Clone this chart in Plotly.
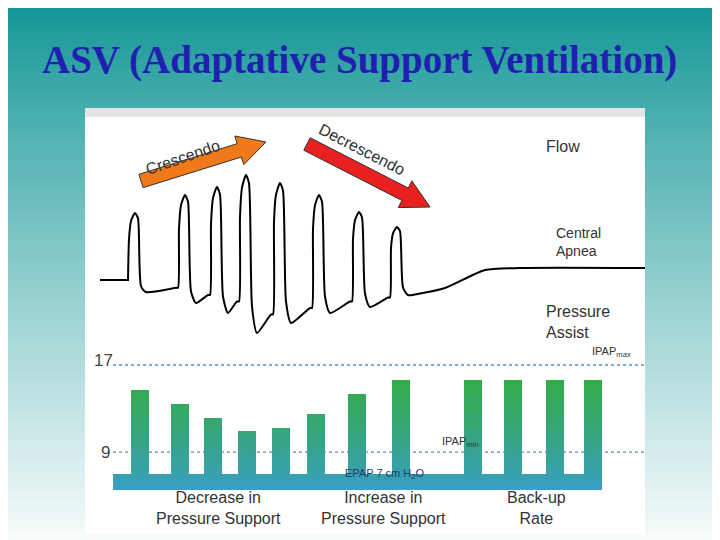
import math
import plotly.graph_objects as go

# flow waveform: breath rise position, peak amplitude, trough amplitude (px-like units above baseline)
breath_rise = [128, 178, 210, 239, 273, 312, 352, 390]
breath_peak = [67, 85, 93, 105, 97, 85, 68, 53]
breath_trough = [-12, -23, -33, -53, -43, -33, -27, -15]
apnea_level = [10, 12]

# pressure bars (cm H2O)
bar_x = [140, 180, 213, 247, 281, 316, 357, 401, 473, 513, 555, 593]
bar_top = [14.7, 13.4, 12.1, 10.9, 11.2, 12.5, 14.3, 15.6, 15.6, 15.6, 15.6, 15.6]
epap = 7
ipap_min = 9
ipap_max = 17
band_bottom = 5.5

# page is drawn 8px in from the window corner, so work in window pixels and shift
OFF = 8
W, H = 720 - OFF, 540 - OFF
L, R, T, B = 85 - OFF, 75, 108 - OFF, 5


def px(x):
    return (x - OFF - L) / (W - L - R)


def py(y):
    return (H - B - (y - OFF)) / (H - T - B)


fig = go.Figure()

# flow trace
fx, fy = [100, 128], [0, 0]
prev = 0
for i, (rx, pk, tr) in enumerate(zip(breath_rise, breath_peak, breath_trough)):
    nxt = breath_rise[i + 1] if i + 1 < len(breath_rise) else None
    fx += [rx, rx + 1, rx + 3, rx + 7, rx + 10, rx + 13, rx + 18]
    fy += [prev, pk * 0.6, pk * 0.88, pk, pk * 0.92, tr * 0.5, tr]
    if nxt:
        prev = tr * 0.65
        fx += [nxt - 2]
        fy += [prev]
fx += [420, 445, 485, 520, 645]
fy += [breath_trough[-1] * 0.9, -8, apnea_level[0], apnea_level[1], apnea_level[1]]
fig.add_trace(go.Scatter(x=fx, y=fy, mode="lines", line=dict(color="black", width=2, shape="spline", smoothing=0.6),
                         yaxis="y", hoverinfo="skip"))


def mix(c1, c2, t):
    return "rgb(%d,%d,%d)" % tuple(int(a + (b - a) * t) for a, b in zip(c1, c2))


green = (52, 172, 72)
teal = (58, 158, 200)
top_level = max(bar_top)
step = 0.25
lvl = band_bottom
while lvl < top_level:
    hi = lvl + step
    col = mix(teal, green, min(1, (lvl - band_bottom) / (top_level - band_bottom)) ** 0.8)
    if lvl < epap:
        xs, hs, wd = [357], [min(epap, hi) - lvl], 489
    else:
        xs = [x for x, t in zip(bar_x, bar_top) if t > lvl]
        hs = [min(t, hi) - lvl for t in bar_top if t > lvl]
        wd = 17.5
    fig.add_trace(go.Bar(x=xs, y=hs, base=lvl, width=wd, marker=dict(color=col, line=dict(width=0)),
                         yaxis="y2", hoverinfo="skip"))
    lvl = hi

for lv in [ipap_max, ipap_min]:
    fig.add_trace(go.Scatter(x=[113, 645], y=[lv, lv], mode="lines", yaxis="y2",
                             line=dict(color="#5a8fb0", width=1.3, dash="dot"), hoverinfo="skip"))

shapes = []
# background gradient
n = 54
for i in range(n):
    c = mix((18, 150, 150), (245, 250, 250), (i / (n - 1)) ** 0.9)
    shapes.append(dict(type="rect", xref="paper", yref="paper", x0=px(0), x1=px(720),
                       y0=py((i + 1) * 540 / n + 1), y1=py(i * 540 / n), fillcolor=c, line=dict(width=0), layer="below"))
shapes.append(dict(type="rect", xref="paper", yref="paper", x0=0, x1=1, y0=0, y1=1,
                   fillcolor="white", line=dict(width=0), layer="below"))
shapes.append(dict(type="rect", xref="paper", yref="paper", x0=0, x1=1, y0=py(117), y1=1,
                   fillcolor="#e4e4e4", line=dict(width=0), layer="below"))


def arrow(x0, y0, x1, y1, color):
    dx, dy = x1 - x0, y1 - y0
    ln = math.hypot(dx, dy)
    ux, uy = dx / ln, dy / ln
    nx, ny = -uy, ux
    w, hw, hl = 7, 15, 28
    bx, by = x1 - ux * hl, y1 - uy * hl
    pts = [(x0 + nx * w, y0 + ny * w), (bx + nx * w, by + ny * w), (bx + nx * hw, by + ny * hw), (x1, y1),
           (bx - nx * hw, by - ny * hw), (bx - nx * w, by - ny * w), (x0 - nx * w, y0 - ny * w)]
    path = "M " + " L ".join("%.4f,%.4f" % (px(a), py(b)) for a, b in pts) + " Z"
    return dict(type="path", xref="paper", yref="paper", path=path, fillcolor=color,
                line=dict(color="#333", width=1))


shapes.append(arrow(141, 181, 266, 142, "#f07a1a"))
shapes.append(arrow(307, 144, 430, 207, "#e82020"))

ann = []


def txt(x, y, s, size=16, color="#333", angle=0, align="center", xanchor="center", family="Liberation Sans"):
    ann.append(dict(x=px(x), y=py(y), xref="paper", yref="paper", text=s, showarrow=False, textangle=angle,
                    font=dict(size=size, color=color, family=family), align=align, xanchor=xanchor, yanchor="middle"))


txt(359, 60, "<b>ASV (Adaptative Support Ventilation)</b>", size=39, color="#2020b0", family="Liberation Serif")
txt(182, 157, "Crescendo", size=16, angle=-19)
txt(362, 149, "Decrescendo", size=16, angle=27)
txt(544, 146, "Flow", size=16, xanchor="left")
txt(554, 242, "Central<br>Apnea", size=14, xanchor="left", align="left")
txt(544, 322, "Pressure<br>Assist", size=16, xanchor="left", align="left")
txt(590, 352, "IPAP<sub>max</sub>", size=11, xanchor="left")
txt(440, 442, "IPAP<sub>min</sub>", size=11, xanchor="left")
txt(385, 474, "EPAP 7 cm H<sub>2</sub>O", size=11, color="#1a3d6b")
txt(103, 360, "17", size=17, color="#444")
txt(105, 452, "9", size=17, color="#444")
txt(218, 508, "Decrease in<br>Pressure Support", size=16)
txt(383, 508, "Increase in<br>Pressure Support", size=16)
txt(536, 508, "Back-up<br>Rate", size=16)

fig.update_layout(
    width=W, height=H, margin=dict(l=L, r=R, t=T, b=B),
    paper_bgcolor="white", plot_bgcolor="rgba(0,0,0,0)",
    showlegend=False, barmode="overlay", bargap=0,
    xaxis=dict(range=[85, 645], visible=False, fixedrange=True),
    yaxis=dict(domain=[py(340), py(160)], range=[-60, 120], visible=False),
    yaxis2=dict(domain=[0, py(340)], range=[17 - 170 / 10.9, 17 + 25 / 10.9], visible=False),
    shapes=shapes, annotations=ann,
)
fig.write_html("out.html")
